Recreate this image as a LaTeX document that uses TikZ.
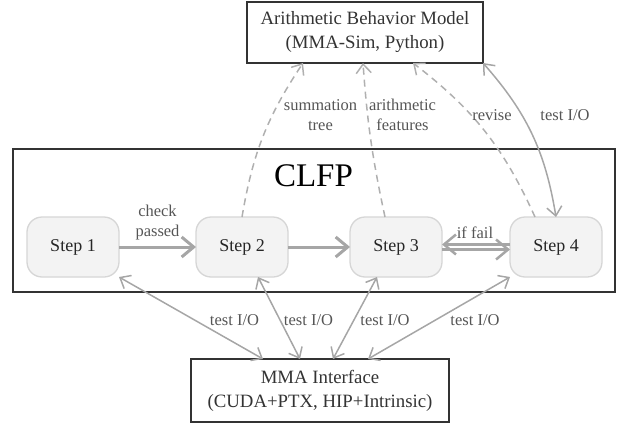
\documentclass[tikz,border=0pt]{standalone}
\usepackage{fontspec}
\setmainfont{Liberation Serif}
\usetikzlibrary{arrows.meta, positioning}

\definecolor{boxline}{HTML}{333333}
\definecolor{stepline}{HTML}{D6D6D6}
\definecolor{stepfill}{HTML}{F3F3F3}
\definecolor{linkgray}{HTML}{A6A6A6}
\definecolor{dashgray}{HTML}{B0B0B0}
\definecolor{labeltext}{HTML}{555555}

\begin{document}
\begin{tikzpicture}[
    x=1pt, y=-1pt,
    box/.style={rectangle, draw=boxline, line width=1.8pt, align=center, inner xsep=4pt, outer sep=0pt, font=\fontsize{18.8}{24}\selectfont, text=black!80},
    frame/.style={rectangle, draw=boxline, line width=1.8pt, outer sep=0pt},
    stepbox/.style={rectangle, rounded corners=15pt, draw=stepline, fill=stepfill, line width=1.3pt, minimum width=92pt, minimum height=60pt, outer sep=0pt, font=\fontsize{18}{22}\selectfont, text=black!85},
    flow/.style={-{Straight Barb[length=12pt, width=20pt]}, line width=3pt, draw=linkgray},
    link/.style={{Straight Barb[length=9pt, width=15pt]}-{Straight Barb[length=9pt, width=15pt]}, line width=1.5pt, draw=linkgray},
    feed/.style={-{Straight Barb[length=9pt, width=15pt]}, line width=1.5pt, draw=dashgray, dash pattern=on 7pt off 5pt},
    lbl/.style={font=\fontsize{16.5}{20}\selectfont, text=labeltext, align=center, inner sep=0pt}
]
    \useasboundingbox (0,0) rectangle (618,423);

    % Outer boxes
    \node[box, minimum width=236pt, minimum height=61pt] (model) at (365,32.5) {Arithmetic Behavior Model\\(MMA-Sim, Python)};
    \node[box, minimum width=258pt, minimum height=63pt] (mma) at (320,390.5) {MMA Interface\\(CUDA+PTX, HIP+Intrinsic)};

    % CLFP frame
    \node[frame, minimum width=602pt, minimum height=143pt] (clfp) at (314,220.5) {};
    \node[font=\fontsize{33}{33}\selectfont, inner sep=0pt] (clfptitle) at (313.5,176) {CLFP};

    % Steps
    \node[stepbox] (step1) at (73,247) {Step 1};
    \node[stepbox, right=77pt of step1] (step2) {Step 2};
    \node[stepbox, right=62pt of step2] (step3) {Step 3};
    \node[stepbox, right=68pt of step3] (step4) {Step 4};

    % Flow between steps
    \draw[flow] (step1) -- (step2);
    \draw[flow] (step2) -- (step3);
    \draw[flow, line width=2.5pt] ([yshift=-2.5pt]step3.east) -- ([yshift=-2.5pt]step4.west);
    \draw[flow, line width=2.5pt] ([yshift=2.5pt]step4.west) -- ([yshift=2.5pt]step3.east);
    \node[lbl] (lcheck) at (157.5,222.5) {check\\passed};
    \node[lbl] (lfail) at (475,233) {if fail};

    % Feedback to the behavior model
    \draw[feed] (step2.north) to[bend left=12] ([xshift=-62pt]model.south);
    \draw[feed] ([xshift=-11pt]step3.north) to[bend left=4] ([xshift=-2pt]model.south);
    \draw[feed] ([xshift=-21pt]step4.north) to[bend right=14] ([xshift=48pt]model.south);
    \draw[link] (model.south east) to[bend left=16] (step4.north);
    \node[lbl] (lsum) at (320.5,115) {summation\\tree};
    \node[lbl] (lfeat) at (402.5,115) {arithmetic\\features};
    \node[lbl] (lrev) at (492,115) {revise};
    \node[lbl] (ltop) at (565,115) {test I/O};

    % Test I/O with the MMA interface
    \draw[link] (step1.south east) -- ([xshift=-57pt]mma.north);
    \draw[link] ([xshift=16pt]step2.south) -- ([xshift=-20pt]mma.north);
    \draw[link] ([xshift=-19pt]step3.south) -- ([xshift=13pt]mma.north);
    \draw[link] (step4.south west) -- ([xshift=48pt]mma.north);
    \node[lbl] (lio1) at (234.5,320) {test I/O};
    \node[lbl] (lio2) at (308.5,320) {test I/O};
    \node[lbl] (lio3) at (385,320) {test I/O};
    \node[lbl] (lio4) at (475,320) {test I/O};

\end{tikzpicture}
\end{document}
